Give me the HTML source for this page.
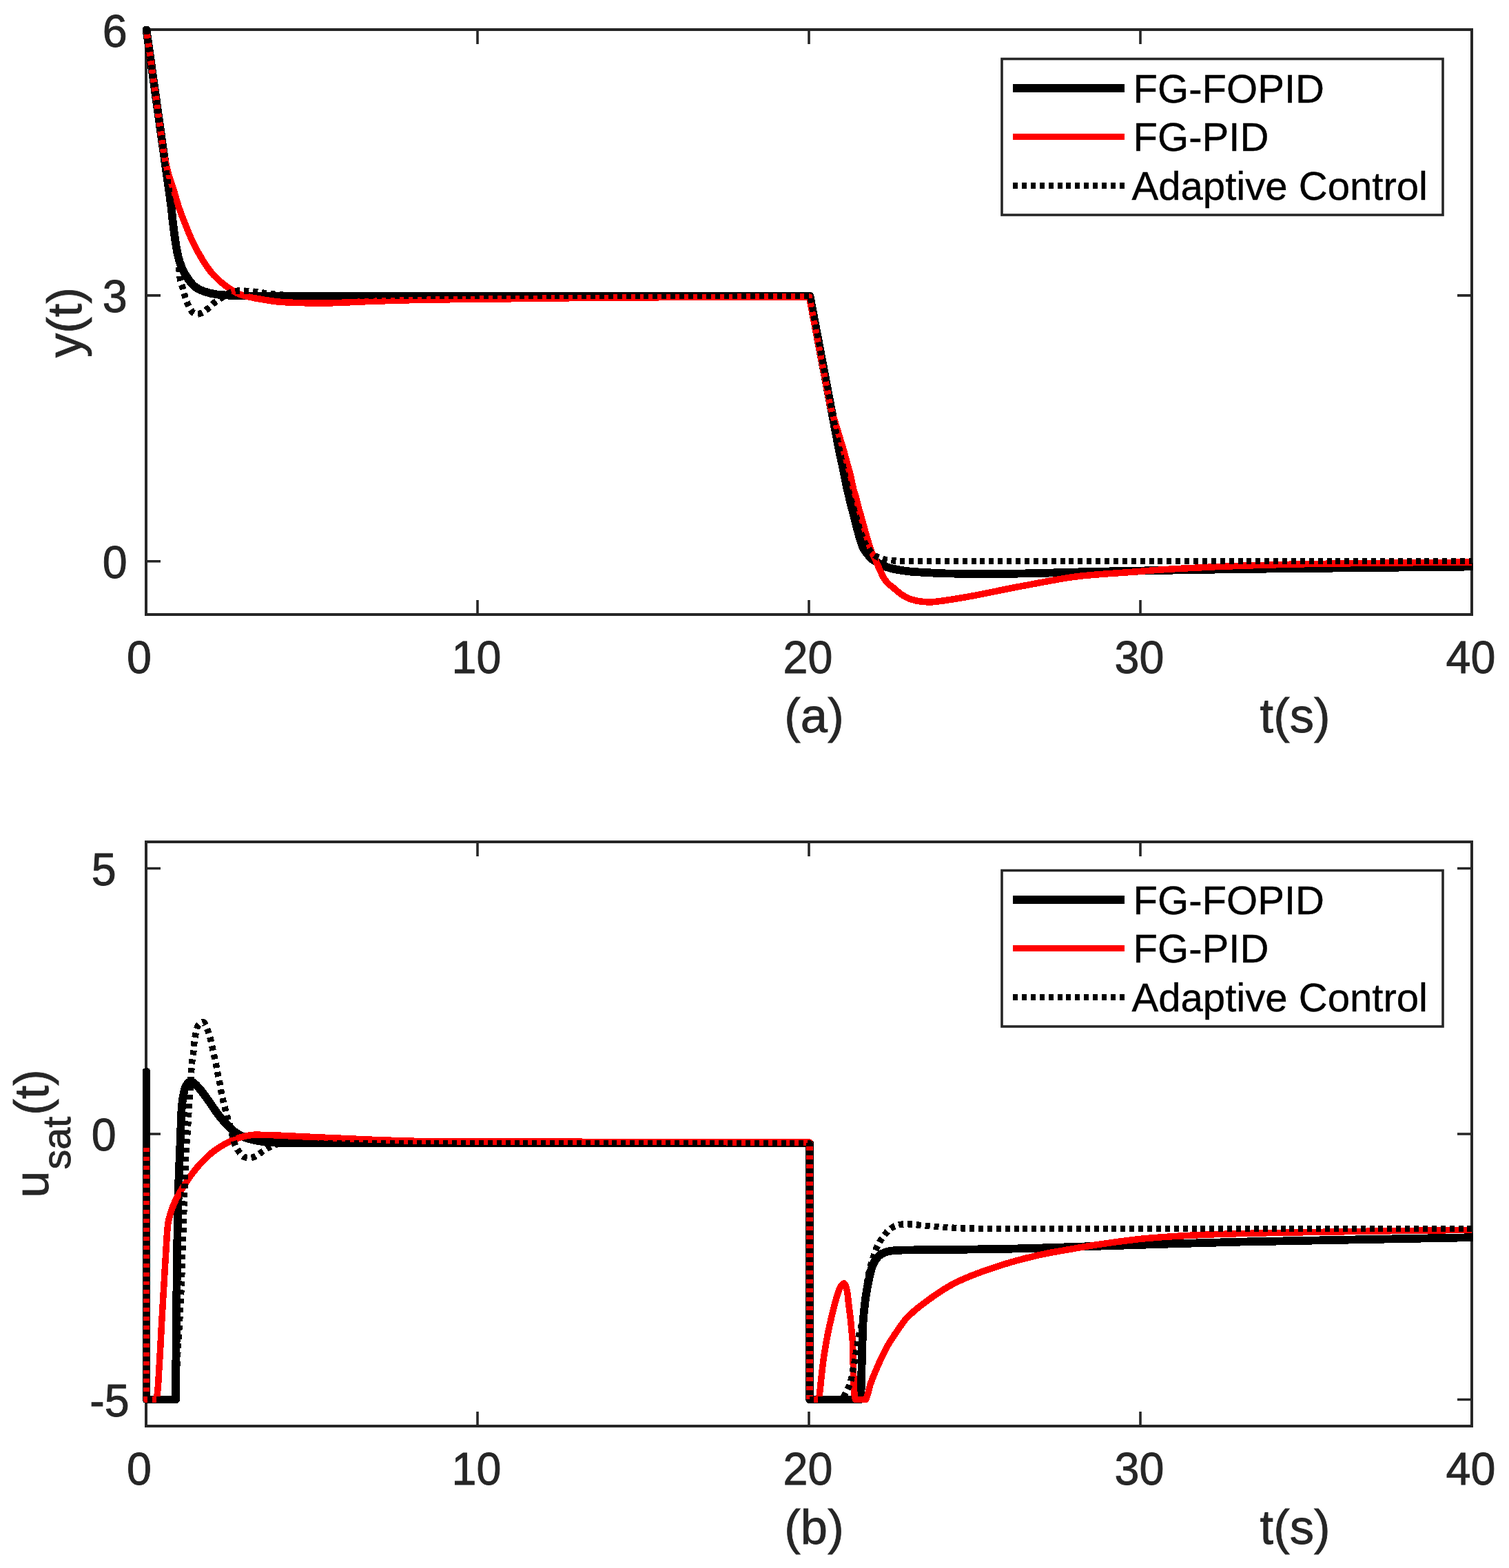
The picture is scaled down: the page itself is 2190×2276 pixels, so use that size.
<!DOCTYPE html>
<html lang="en"><head><meta charset="utf-8"><title>Figure</title>
<style>html,body{margin:0;padding:0;background:#fff}svg{display:block}text{font-family:"Liberation Sans",Arial,Helvetica,sans-serif}.tk{font-size:64.6px;fill:#262626;stroke:#262626;stroke-width:0.9px}.lb{font-size:70.6px;fill:#262626;stroke:#262626;stroke-width:0.8px}.lg{font-size:58.1px;fill:#000;stroke:#000;stroke-width:0.4px}</style></head><body>
<svg width="2190" height="2276" viewBox="0 0 2190 2276">
<rect x="0" y="0" width="2190" height="2276" fill="#fff"/>
<clipPath id="c1"><rect x="205.0" y="38.0" width="1932.5" height="859.0"/></clipPath>
<g stroke="#262626" fill="none">
<rect x="212.0" y="43.0" width="1924.0" height="849.0" stroke-width="4"/>
<path d="M693.0 892.0v-21M693.0 43.0v21M1174.0 892.0v-21M1174.0 43.0v21M1655.0 892.0v-21M1655.0 43.0v21M212.0 814.8h21M2136.0 814.8h-21M212.0 428.9h21M2136.0 428.9h-21M212.0 43.0h21M2136.0 43.0h-21" stroke-width="3.6"/>
</g>
<g clip-path="url(#c1)" fill="none" stroke-linejoin="round" shape-rendering="crispEdges">
<path d="M212.5 43.0L248.5 300.0C249.7 313.1 251.2 326.1 253.0 339.1C254.4 349.7 255.9 360.5 258.2 370.9C259.7 377.4 261.9 383.9 264.5 390.0C266.8 395.3 270.0 400.6 273.4 405.3C276.3 409.4 279.7 413.9 283.6 416.7C287.3 419.4 292.0 421.6 296.4 423.1C302.4 425.1 309.0 426.8 315.4 427.5C321.7 428.2 328.1 428.5 334.5 428.8C343.0 429.2 351.5 429.5 360.0 429.6C393.3 429.9 426.7 430.0 460.0 430.0L1175.5 430.0L1215.2 640.0C1216.4 646.4 1217.7 652.7 1219.0 659.1C1220.3 665.5 1221.8 671.8 1223.1 678.2C1224.4 684.6 1225.6 690.9 1226.9 697.3C1228.2 703.6 1229.6 710.0 1231.1 716.3C1232.6 722.7 1234.2 729.0 1235.8 735.4C1236.9 739.7 1238.0 744.0 1239.1 748.3C1241.3 756.8 1243.4 765.3 1245.7 773.7C1246.9 777.9 1248.0 782.1 1249.4 786.2C1250.5 789.5 1251.6 793.0 1253.1 796.0C1254.6 799.0 1256.9 801.6 1259.0 804.3C1260.8 806.6 1262.6 809.1 1264.7 810.9C1266.5 812.4 1268.7 813.7 1270.8 814.9C1275.5 817.7 1280.2 820.8 1285.3 822.6C1289.2 824.0 1293.3 825.0 1297.4 825.9C1301.5 826.8 1305.7 827.5 1309.8 828.1C1313.9 828.7 1318.1 829.3 1322.2 829.7C1328.1 830.2 1334.1 830.5 1340.0 830.8C1351.9 831.4 1363.7 832.3 1375.6 832.5C1397.1 832.8 1418.5 833.0 1440.0 833.0C1493.3 833.0 1546.7 830.6 1600.0 829.6C1666.7 828.3 1733.3 826.9 1800.0 826.0C1912.0 824.5 2024.0 823.1 2136.0 822.5" stroke="#000" stroke-width="11.8" stroke-linecap="round"/>
<path d="M212.5 43.0L234.5 200.0C236.2 217.0 239.8 233.6 243.8 250.0C245.9 258.6 249.4 267.0 252.0 275.5C254.6 283.9 256.8 292.5 259.6 300.9C262.5 309.5 265.8 318.0 269.2 326.4C272.6 334.9 276.0 343.5 280.0 351.8C284.2 360.5 288.9 369.1 294.0 377.3C298.7 384.8 303.8 392.4 309.6 398.9C315.1 404.9 321.6 410.6 328.2 415.4C334.1 419.7 340.6 424.4 347.3 426.9C355.2 429.8 364.1 431.7 372.7 433.3C385.3 435.6 398.1 437.9 410.9 438.6C422.2 439.2 433.6 439.7 445.0 439.8C454.0 439.9 463.0 440.0 472.0 440.0C482.0 440.0 492.0 439.4 502.0 439.0C511.0 438.7 520.0 438.2 529.0 437.8C539.7 437.4 550.3 437.0 561.0 436.7C575.3 436.3 589.7 435.8 604.0 435.5C624.3 435.1 644.7 434.9 665.0 434.6C695.3 434.2 725.7 434.0 756.0 433.6C770.7 433.4 785.3 433.2 800.0 433.0C866.7 432.3 933.3 431.8 1000.0 431.5C1058.2 431.3 1116.3 431.0 1174.5 431.0L1205.0 590.0C1210.2 606.6 1215.3 623.3 1220.3 640.0C1221.6 644.2 1222.9 648.5 1224.1 652.7C1225.3 656.9 1226.4 661.2 1227.6 665.4C1228.8 669.7 1229.9 673.9 1231.1 678.2C1232.3 682.4 1233.6 686.6 1234.6 690.9C1236.1 697.2 1237.1 703.7 1238.7 710.0C1239.8 714.3 1241.4 718.4 1242.6 722.7C1243.7 726.9 1244.6 731.2 1245.7 735.4C1247.0 740.3 1248.5 745.1 1249.9 750.0C1251.1 754.2 1252.2 758.5 1253.4 762.7C1254.6 767.0 1255.7 771.2 1256.9 775.5C1258.1 779.7 1259.4 784.0 1260.7 788.2C1262.0 792.5 1263.3 796.8 1264.9 800.9C1266.6 805.2 1268.9 809.3 1270.9 813.6C1272.8 817.8 1274.6 822.2 1276.6 826.4C1278.6 830.7 1280.3 835.2 1282.7 839.1C1284.4 841.9 1286.7 844.6 1289.0 847.0C1291.2 849.2 1293.9 851.0 1296.3 853.0C1300.6 856.5 1304.6 860.6 1309.3 863.5C1313.4 866.0 1318.0 868.6 1322.6 870.0C1326.8 871.3 1331.4 872.5 1335.8 873.0C1340.2 873.5 1344.7 874.0 1349.1 874.0C1353.5 874.0 1357.9 873.3 1362.3 872.8C1374.9 871.4 1387.5 869.1 1400.0 867.0C1428.4 862.2 1456.5 855.5 1484.8 850.4C1513.0 845.3 1541.2 839.0 1569.7 836.0C1593.0 833.5 1616.6 832.3 1640.0 830.5C1660.0 829.0 1680.0 827.2 1700.0 826.0C1723.6 824.6 1747.3 823.4 1771.0 822.4C1790.7 821.6 1810.3 821.0 1830.0 820.4C1853.3 819.7 1876.7 819.0 1900.0 818.6C1933.3 818.0 1966.7 817.7 2000.0 817.3C2045.3 816.8 2090.7 816.3 2136.0 816.0" stroke="#f00" stroke-width="9.5"/>
<path d="M212.5 43.0L259.7 380.0C259.7 388.7 260.4 397.2 261.4 405.5C261.9 409.8 264.0 414.0 265.2 418.2C266.4 422.4 267.3 426.6 268.6 430.7C270.0 435.0 271.5 439.4 273.4 443.4C275.1 447.0 277.2 451.6 280.0 453.6C281.6 454.8 284.3 456.2 286.5 456.2C288.8 456.2 291.3 454.9 293.4 453.9C297.3 452.1 300.6 448.8 304.0 446.0C307.4 443.2 310.3 439.7 313.8 437.1C317.1 434.7 320.9 432.8 324.4 430.7C327.8 428.6 330.9 425.6 334.5 424.5C338.5 423.3 343.0 422.0 347.3 422.0C351.5 422.0 355.8 422.2 360.0 422.4C368.5 422.8 376.9 424.6 385.4 425.6C393.9 426.6 402.4 427.8 410.9 428.2C420.6 428.6 430.3 429.0 440.0 429.0L1175.5 429.0L1215.7 640.0C1216.9 646.4 1218.2 652.8 1219.5 659.1C1220.8 665.5 1222.4 671.8 1223.8 678.2C1225.2 684.6 1226.5 690.9 1228.0 697.3C1229.5 703.6 1231.0 710.0 1232.6 716.3C1234.3 722.7 1236.1 729.1 1238.0 735.4C1239.3 739.7 1240.7 744.0 1242.0 748.3C1244.6 756.7 1246.6 765.4 1249.5 773.7C1251.0 777.9 1252.6 782.2 1254.5 786.2C1255.9 789.2 1257.6 792.2 1259.5 795.0C1261.5 798.0 1263.6 801.2 1266.2 803.5C1269.0 806.0 1272.5 808.5 1276.0 809.8C1280.5 811.5 1285.7 812.7 1290.7 813.3C1295.4 813.8 1300.2 814.3 1305.0 814.4C1313.3 814.5 1321.7 814.6 1330.0 814.6L2136.0 814.6" stroke="#000" stroke-width="9.4" stroke-dasharray="7 5.9"/>
</g>
<text class="tk" transform="translate(202.00 977.00) scale(1 1.030)" text-anchor="middle">0</text>
<text class="tk" transform="translate(691.50 977.00) scale(1 1.030)" text-anchor="middle">10</text>
<text class="tk" transform="translate(1172.50 977.00) scale(1 1.030)" text-anchor="middle">20</text>
<text class="tk" transform="translate(1653.50 977.00) scale(1 1.030)" text-anchor="middle">30</text>
<text class="tk" transform="translate(2134.50 977.00) scale(1 1.030)" text-anchor="middle">40</text>
<text class="tk" transform="translate(184.70 839.32) scale(1 1.030)" text-anchor="end">0</text>
<text class="tk" transform="translate(184.70 453.41) scale(1 1.030)" text-anchor="end">3</text>
<text class="tk" transform="translate(184.70 67.50) scale(1 1.030)" text-anchor="end">6</text>
<text class="lb" transform="translate(1181.50 1063.00)" text-anchor="middle">(a)</text>
<text class="lb" transform="translate(1879.50 1063.00)" text-anchor="middle">t(s)</text>
<rect x="1454.0" y="85.5" width="640.0" height="226.5" fill="#fff" stroke="#262626" stroke-width="3.6"/>
<g shape-rendering="crispEdges" fill="none">
<path d="M1470 128.0H1632" stroke="#000" stroke-width="12"/>
<path d="M1470 198.5H1632" stroke="#f00" stroke-width="9"/>
<path d="M1470 269.5H1632" stroke="#000" stroke-width="9.5" stroke-dasharray="7 5.9"/>
</g>
<text class="lg" transform="translate(1644.50 148.60)" text-anchor="start">FG-FOPID</text>
<text class="lg" transform="translate(1644.50 219.10)" text-anchor="start">FG-PID</text>
<text class="lg" transform="translate(1642.50 290.00)" text-anchor="start">Adaptive Control</text>
<text class="lb" transform="translate(117.50 468.00) rotate(-90)" text-anchor="middle">y(t)</text>
<clipPath id="c2"><rect x="205.0" y="1217.0" width="1932.5" height="858.0"/></clipPath>
<g stroke="#262626" fill="none">
<rect x="212.0" y="1222.0" width="1924.0" height="848.0" stroke-width="4"/>
<path d="M693.0 2070.0v-21M693.0 1222.0v21M1174.0 2070.0v-21M1174.0 1222.0v21M1655.0 2070.0v-21M1655.0 1222.0v21M212.0 2031.5h21M2136.0 2031.5h-21M212.0 1646.0h21M2136.0 1646.0h-21M212.0 1260.5h21M2136.0 1260.5h-21" stroke-width="3.6"/>
</g>
<g clip-path="url(#c2)" fill="none" stroke-linejoin="round" shape-rendering="crispEdges">
<path d="M212.5 1555.5L212.5 2031.4L255.2 2031.4C255.2 1954.3 256.3 1877.1 257.4 1800.0C257.8 1769.7 258.6 1739.3 259.5 1709.0C260.1 1691.0 261.1 1673.0 261.8 1655.0C262.4 1640.0 262.6 1624.9 263.6 1610.0C264.1 1601.6 265.2 1593.0 267.0 1585.0C267.9 1580.9 269.6 1575.8 272.0 1573.0C273.1 1571.7 275.6 1569.8 277.3 1569.8C280.7 1569.8 284.1 1574.6 287.0 1577.4C292.9 1583.2 297.5 1590.7 302.5 1597.5C307.3 1604.1 311.5 1611.1 316.5 1617.5C320.7 1623.0 325.1 1628.4 330.0 1633.3C334.1 1637.4 338.4 1641.6 343.2 1644.7C347.6 1647.5 352.5 1650.2 357.5 1651.9C362.1 1653.4 367.0 1654.6 371.8 1655.5C376.5 1656.4 381.3 1657.2 386.1 1657.6C395.6 1658.3 405.2 1658.9 414.7 1659.0C433.1 1659.3 451.6 1659.4 470.0 1659.4L1175.2 1659.5L1175.2 2031.4L1248.6 2031.4C1248.9 2028.4 1249.3 2025.5 1249.4 2022.5C1250.3 2004.0 1250.4 1985.4 1251.0 1966.8C1251.5 1950.9 1251.8 1935.0 1252.6 1919.1C1253.2 1908.5 1254.5 1897.9 1255.8 1887.3C1256.8 1879.3 1258.3 1871.3 1259.8 1863.4C1261.1 1856.5 1262.4 1849.4 1264.5 1842.7C1266.0 1837.8 1268.1 1832.4 1270.9 1828.4C1273.2 1825.1 1276.8 1821.4 1280.4 1819.6C1284.1 1817.8 1288.8 1816.2 1293.2 1815.7C1298.4 1815.1 1303.8 1814.7 1309.1 1814.6C1325.0 1814.3 1340.9 1814.3 1356.8 1814.1C1387.9 1813.8 1418.9 1813.5 1450.0 1813.0C1503.9 1812.1 1557.9 1809.8 1611.8 1808.2C1674.5 1806.3 1737.3 1804.1 1800.0 1802.6C1912.0 1799.9 2024.0 1797.6 2136.0 1796.2" stroke="#000" stroke-width="11.8" stroke-linecap="round"/>
<path d="M212.5 1659.0L212.5 2031.4L226.0 2031.4C226.7 2029.3 227.7 2027.2 228.0 2025.0C229.9 2012.3 230.1 1998.8 231.0 1985.7C232.6 1961.9 233.6 1938.1 235.0 1914.3C236.0 1896.4 237.1 1878.6 238.2 1860.7C239.3 1842.8 240.2 1824.9 241.4 1807.0C242.1 1796.6 242.6 1786.0 243.9 1775.7C244.6 1770.0 246.5 1764.3 248.2 1758.8C250.0 1753.0 252.4 1747.3 255.0 1741.8C257.2 1737.1 260.0 1732.7 262.6 1728.2C265.3 1723.6 268.1 1719.1 271.1 1714.7C274.6 1709.5 278.2 1704.3 282.1 1699.4C286.1 1694.4 290.3 1689.6 294.8 1685.0C298.9 1680.8 303.1 1676.7 307.6 1673.1C311.6 1669.9 315.9 1666.9 320.3 1664.2C325.7 1660.9 331.4 1657.6 337.2 1655.2C342.7 1652.9 348.4 1650.7 354.2 1649.5C359.4 1648.5 364.7 1647.2 370.0 1647.2C375.3 1647.2 380.7 1647.3 386.0 1647.4C394.0 1647.5 402.0 1648.0 410.0 1648.4C420.0 1648.8 430.0 1649.3 440.0 1649.8C460.0 1650.7 480.0 1651.6 500.0 1652.5C520.0 1653.4 540.0 1654.4 560.0 1655.0C580.3 1655.7 600.7 1656.5 621.0 1656.6C687.3 1657.0 753.7 1657.0 820.0 1657.2C938.3 1657.5 1056.5 1657.8 1174.8 1658.0L1174.8 2031.4L1188.5 2031.4C1189.2 2025.4 1189.9 2019.3 1190.6 2013.3C1191.3 2006.5 1191.9 1999.7 1192.7 1992.9C1193.5 1986.1 1194.3 1979.2 1195.2 1972.4C1196.1 1965.6 1197.3 1958.8 1198.5 1952.0C1199.7 1945.2 1200.9 1938.4 1202.3 1931.6C1203.7 1924.8 1205.3 1918.0 1206.9 1911.2C1208.5 1904.4 1210.1 1897.6 1212.0 1890.8C1213.4 1885.7 1214.8 1880.5 1216.6 1875.5C1217.7 1872.4 1218.9 1868.8 1220.7 1866.3C1221.7 1865.0 1223.8 1862.8 1224.8 1862.8C1226.8 1862.8 1228.5 1869.5 1229.2 1873.0C1230.4 1878.7 1230.7 1884.9 1231.4 1890.8C1232.3 1897.6 1233.2 1904.4 1234.0 1911.2C1234.8 1918.0 1235.4 1924.8 1236.0 1931.6C1236.6 1938.4 1237.4 1945.2 1237.6 1952.0C1238.0 1962.2 1238.0 1972.5 1238.3 1982.7C1238.5 1990.7 1238.8 1998.6 1239.1 2006.6C1239.3 2011.9 1239.5 2017.2 1239.9 2022.5C1240.1 2025.5 1240.8 2028.4 1241.5 2031.4L1256.5 2031.4C1257.4 2029.3 1258.3 2027.2 1259.0 2025.0C1260.6 2020.1 1261.5 2014.9 1263.0 2010.0C1265.9 2000.8 1269.9 1991.9 1273.8 1983.0C1277.9 1973.5 1282.3 1964.0 1287.3 1955.0C1292.5 1945.7 1298.6 1936.8 1304.7 1928.0C1308.0 1923.3 1311.2 1918.4 1315.0 1914.1C1319.5 1909.1 1324.8 1904.6 1330.0 1900.2C1334.8 1896.1 1339.9 1892.4 1345.0 1888.6C1349.9 1885.0 1354.9 1881.4 1360.0 1878.0C1366.5 1873.6 1373.1 1869.2 1380.0 1865.5C1389.6 1860.3 1399.8 1855.7 1410.0 1851.6C1419.8 1847.6 1429.9 1844.2 1440.0 1840.8C1448.3 1838.0 1456.6 1835.3 1465.0 1832.8C1473.3 1830.4 1481.6 1828.1 1490.0 1826.0C1499.9 1823.5 1510.0 1821.2 1520.0 1819.2C1530.0 1817.2 1540.0 1815.6 1550.0 1813.9C1564.2 1811.4 1578.4 1808.7 1592.7 1806.6C1618.0 1802.9 1643.5 1799.2 1669.0 1797.1C1694.4 1795.0 1719.9 1793.5 1745.4 1792.4C1763.6 1791.6 1781.8 1791.1 1800.0 1790.6C1833.3 1789.7 1866.7 1789.2 1900.0 1788.6C1933.3 1788.0 1966.7 1787.5 2000.0 1787.0C2045.3 1786.4 2090.7 1785.8 2136.0 1785.3" stroke="#f00" stroke-width="9.5"/>
<path d="M212.5 1659.0L212.5 2031.4L255.5 2031.4C255.8 2016.3 256.3 2001.1 256.8 1986.0C258.1 1950.2 261.2 1914.4 262.7 1878.6C263.8 1852.4 264.6 1826.2 265.5 1800.0C267.0 1756.7 267.9 1713.3 270.1 1670.0C270.6 1660.0 271.6 1650.0 272.3 1640.0C274.2 1612.0 275.6 1584.0 277.6 1556.0C277.9 1551.2 278.2 1546.4 278.7 1541.6C279.2 1536.3 280.3 1531.1 280.9 1525.9C281.4 1521.6 281.5 1517.3 282.0 1513.0C282.5 1508.7 283.2 1504.3 284.1 1500.1C284.9 1496.2 285.8 1491.4 287.5 1488.5C288.7 1486.5 292.7 1483.5 294.5 1483.5C297.5 1483.5 299.8 1491.5 301.6 1495.8C303.1 1499.5 304.2 1503.4 305.2 1507.3C306.3 1511.6 307.1 1515.9 308.1 1520.2C309.1 1524.5 310.0 1528.8 311.0 1533.1C311.9 1537.4 313.0 1541.6 313.8 1545.9C314.6 1550.2 315.2 1554.5 316.0 1558.8C316.8 1563.1 318.0 1567.4 318.8 1571.7C319.6 1576.0 320.2 1580.3 321.0 1584.6C321.8 1588.9 322.8 1593.2 323.8 1597.5C324.7 1601.3 325.7 1605.1 326.7 1608.9C327.7 1612.7 328.5 1616.6 329.6 1620.4C330.7 1624.2 332.0 1628.0 333.1 1631.8C334.2 1635.6 335.0 1639.5 336.0 1643.3C337.2 1648.1 338.0 1653.0 339.6 1657.6C341.1 1662.1 343.4 1666.7 346.0 1670.5C348.4 1674.0 351.6 1678.8 355.3 1679.8C357.1 1680.3 359.7 1680.8 361.8 1680.8C364.2 1680.8 366.7 1679.9 368.9 1679.1C373.0 1677.7 376.6 1674.3 380.4 1671.9C383.7 1669.8 386.9 1667.3 390.4 1665.5C393.6 1663.8 396.9 1661.9 400.4 1661.2C405.0 1660.3 409.9 1659.5 414.7 1659.5C423.1 1659.4 431.5 1659.4 440.0 1659.4L1174.8 1659.4L1174.8 2031.4L1222.0 2031.4C1223.6 2029.0 1225.0 2026.5 1226.4 2024.0C1227.5 2021.9 1228.5 2019.8 1229.5 2017.7C1231.2 2014.0 1233.2 2010.4 1234.3 2006.6C1235.8 2001.5 1236.5 1995.9 1237.5 1990.6C1238.5 1985.3 1239.6 1980.0 1240.5 1974.7C1241.4 1969.4 1242.4 1964.1 1243.2 1958.8C1244.0 1953.5 1244.7 1948.2 1245.6 1942.9C1247.0 1934.9 1249.7 1927.1 1251.0 1919.1C1252.7 1908.6 1253.6 1897.9 1255.0 1887.3C1256.0 1879.3 1257.0 1871.3 1258.2 1863.4C1259.3 1856.5 1260.5 1849.5 1262.1 1842.7C1263.4 1837.3 1265.3 1832.1 1266.9 1826.8C1267.9 1823.6 1268.7 1820.4 1269.8 1817.3C1271.4 1812.9 1273.3 1808.6 1275.5 1804.5C1277.6 1800.6 1280.2 1796.9 1283.0 1793.4C1285.7 1790.0 1288.6 1786.4 1292.0 1783.9C1295.1 1781.6 1298.8 1779.1 1302.5 1778.3C1306.3 1777.5 1310.5 1776.7 1314.5 1776.7C1318.0 1776.7 1321.5 1777.0 1325.0 1777.2C1330.3 1777.6 1335.6 1778.6 1340.9 1779.1C1351.5 1780.1 1362.1 1780.9 1372.7 1781.5C1383.3 1782.1 1393.9 1783.0 1404.5 1783.1C1419.7 1783.3 1434.8 1783.4 1450.0 1783.4L2136.0 1783.4" stroke="#000" stroke-width="9.4" stroke-dasharray="7 5.9"/>
</g>
<text class="tk" transform="translate(202.00 2155.00) scale(1 1.030)" text-anchor="middle">0</text>
<text class="tk" transform="translate(691.50 2155.00) scale(1 1.030)" text-anchor="middle">10</text>
<text class="tk" transform="translate(1172.50 2155.00) scale(1 1.030)" text-anchor="middle">20</text>
<text class="tk" transform="translate(1653.50 2155.00) scale(1 1.030)" text-anchor="middle">30</text>
<text class="tk" transform="translate(2134.50 2155.00) scale(1 1.030)" text-anchor="middle">40</text>
<text class="tk" transform="translate(187.70 2055.95) scale(1 1.030)" text-anchor="end">-5</text>
<text class="tk" transform="translate(168.80 1669.50) scale(1 1.030)" text-anchor="end">0</text>
<text class="tk" transform="translate(168.80 1285.05) scale(1 1.030)" text-anchor="end">5</text>
<text class="lb" transform="translate(1181.50 2241.00)" text-anchor="middle">(b)</text>
<text class="lb" transform="translate(1879.50 2241.00)" text-anchor="middle">t(s)</text>
<rect x="1454.0" y="1263.5" width="640.0" height="226.5" fill="#fff" stroke="#262626" stroke-width="3.6"/>
<g shape-rendering="crispEdges" fill="none">
<path d="M1470 1306.0H1632" stroke="#000" stroke-width="12"/>
<path d="M1470 1376.5H1632" stroke="#f00" stroke-width="9"/>
<path d="M1470 1447.5H1632" stroke="#000" stroke-width="9.5" stroke-dasharray="7 5.9"/>
</g>
<text class="lg" transform="translate(1644.50 1326.60)" text-anchor="start">FG-FOPID</text>
<text class="lg" transform="translate(1644.50 1397.10)" text-anchor="start">FG-PID</text>
<text class="lg" transform="translate(1642.50 1468.00)" text-anchor="start">Adaptive Control</text>
<text class="lb" transform="translate(70.00 1645.50) rotate(-90)" text-anchor="middle">u<tspan dx="2" dy="32" font-size="57.5px">sat</tspan><tspan dx="2" dy="-32">(t)</tspan></text>
</svg></body></html>
